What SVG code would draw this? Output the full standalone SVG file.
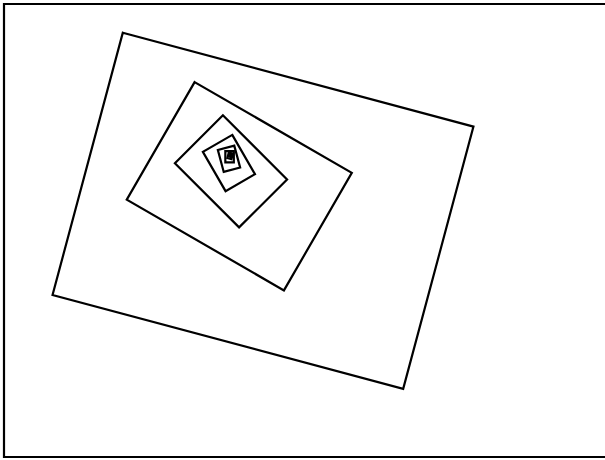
<svg xmlns="http://www.w3.org/2000/svg" width="605" height="460" viewBox="0 0 605 460">
<style>
.s{fill:none;stroke:#000;stroke-width:2.2;vector-effect:non-scaling-stroke;stroke-linejoin:miter}
</style>
<defs>
<rect id="base" class="s" x="-181.5" y="-135.75" width="363" height="271.5" transform="translate(263 210.8) rotate(15)"/>
</defs>
<rect id="frame" class="s" x="4" y="4" width="620" height="453"/>
<g id="spiral">
<use href="#base"/>
<g id="l2" transform="translate(231 155.3) rotate(15) scale(0.5) translate(-231 -155.3)">
<use href="#base"/>
<g id="l3" transform="translate(231 155.3) rotate(15) scale(0.5) translate(-231 -155.3)">
<use href="#base"/>
<g id="l4" transform="translate(231 155.3) rotate(15) scale(0.5) translate(-231 -155.3)">
<use href="#base"/>
<g id="l5" transform="translate(231 155.3) rotate(15) scale(0.5) translate(-231 -155.3)">
<use href="#base"/>
<g id="l6" transform="translate(231 155.3) rotate(15) scale(0.5) translate(-231 -155.3)">
<use href="#base"/>
<g id="l7" transform="translate(231 155.3) rotate(15) scale(0.5) translate(-231 -155.3)">
<use href="#base"/>
<g id="l8" transform="translate(231 155.3) rotate(15) scale(0.5) translate(-231 -155.3)">
<use href="#base"/>
<g id="l9" transform="translate(231 155.3) rotate(15) scale(0.5) translate(-231 -155.3)">
<use href="#base"/>
<g id="l10" transform="translate(231 155.3) rotate(15) scale(0.5) translate(-231 -155.3)">
<use href="#base"/>
</g>
</g>
</g>
</g>
</g>
</g>
</g>
</g>
</g>
</g>
</svg>
